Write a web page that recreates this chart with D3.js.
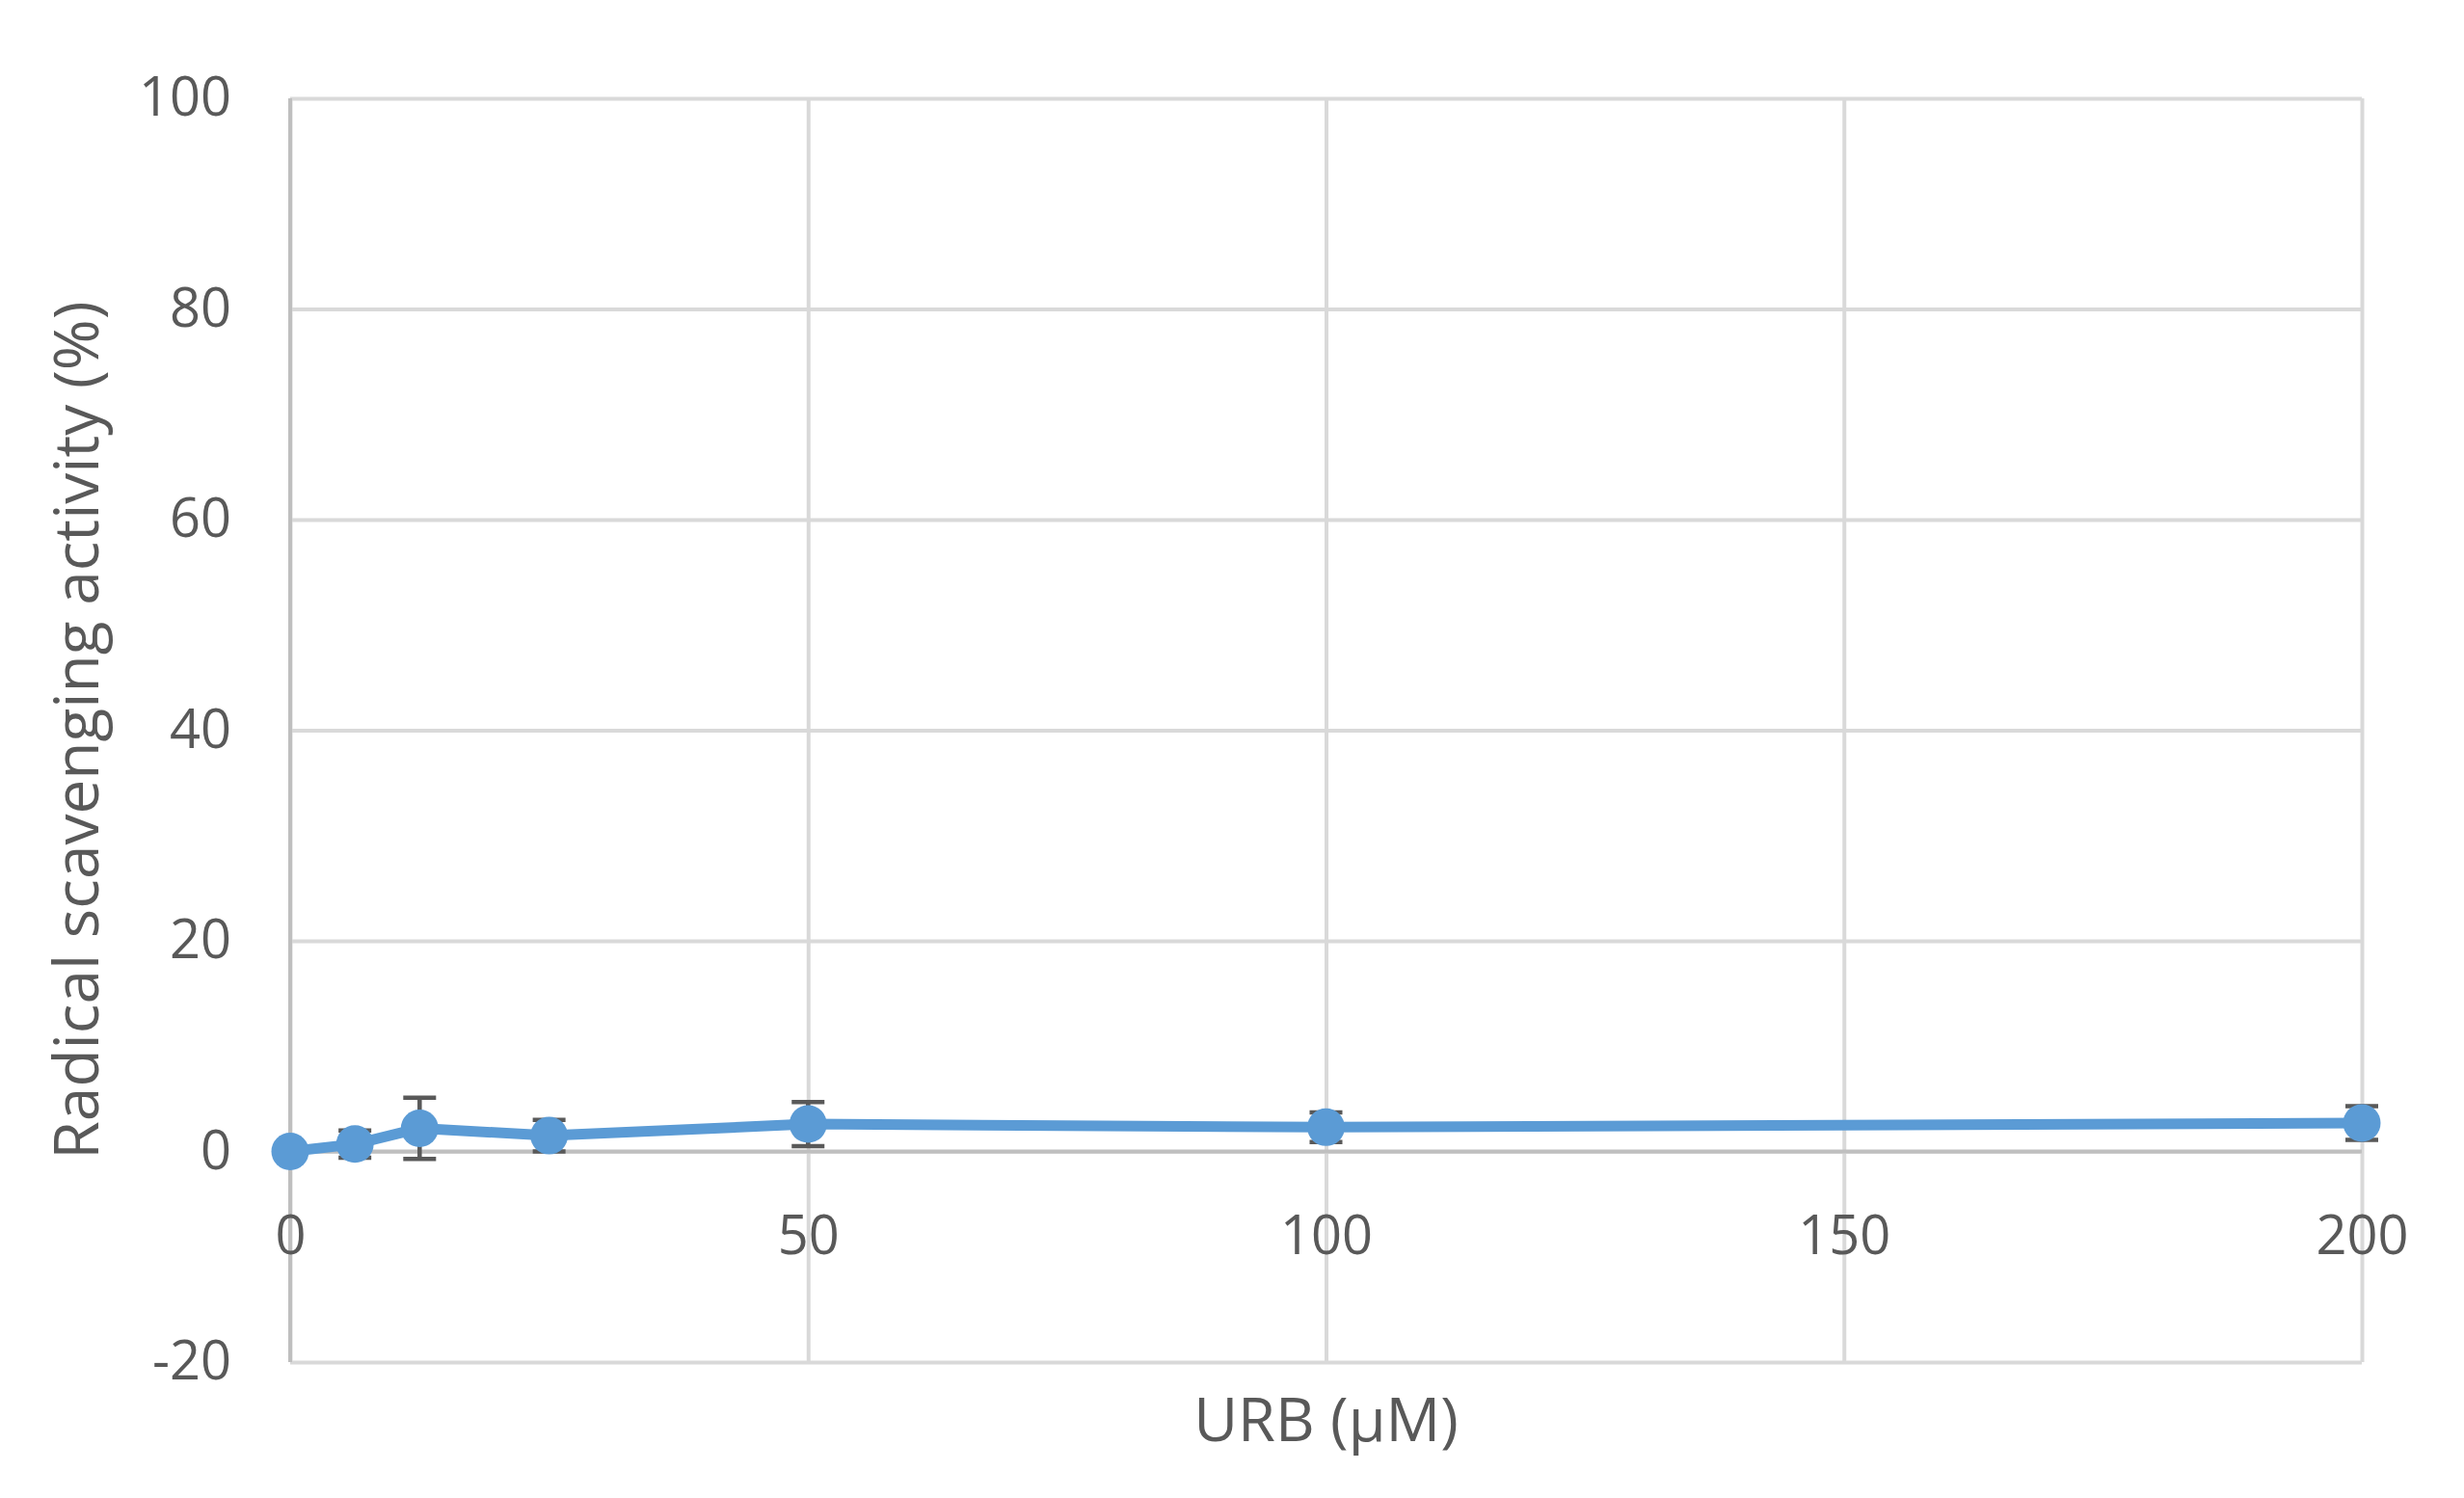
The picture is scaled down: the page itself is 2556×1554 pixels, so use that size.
<!DOCTYPE html>
<html>
<head>
<meta charset="utf-8">
<script src="https://cdn.jsdelivr.net/npm/d3@7"></script>
<style>
  html, body { margin: 0; padding: 0; background: #fff; }
  svg { display: block; font-family: "Open Sans", "Liberation Sans", sans-serif; }
</style>
</head>
<body>
<svg id="chart"></svg>
<script>
// 浓度 (µM) / 清除率 (%) / 误差
const concentrations = [0, 6.25, 12.5, 25, 50, 100, 200];
const activity = [0.0, 0.7, 2.2, 1.5, 2.6, 2.3, 2.7];
const errors = [0.0, 1.3, 2.9, 1.5, 2.1, 1.4, 1.6];

const xTicks = [0, 50, 100, 150, 200];
const yTicks = [-20, 0, 20, 40, 60, 80, 100];

const xTitle = 'URB (μM)';
const yTitle = 'Radical scavenging activity (%)';

const W = 2556, H = 1554;
const TEXT = '#595959', GRID = '#d9d9d9', AXIS = '#bfbfbf', BLUE = '#5b9bd5';

const svg = d3.select('#chart').attr('width', W).attr('height', H).attr('viewBox', `0 0 ${W} ${H}`);

const x = d3.scaleLinear().domain([0, 200]).range([301, 2450]);
const y = d3.scaleLinear().domain([-20, 100]).range([1413, 102]);

const data = concentrations.map((c, i) => ({ c, v: activity[i], e: errors[i] }));
const plain = (d) => String(d); // 用普通连字符，不用 U+2212

// 网格线
svg.append('g').attr('transform', `translate(${x(0)},0)`)
  .call(d3.axisLeft(y).tickValues(yTicks).tickSize(-(x(200) - x(0))).tickFormat(''))
  .call((g) => g.select('.domain').remove())
  .call((g) => g.selectAll('line').attr('stroke', GRID).attr('stroke-width', 4));
svg.append('g').attr('transform', `translate(0,${y(-20)})`)
  .call(d3.axisBottom(x).tickValues(xTicks).tickSize(-(y(-20) - y(100))).tickFormat(''))
  .call((g) => g.select('.domain').remove())
  .call((g) => g.selectAll('line').attr('stroke', GRID).attr('stroke-width', 4));

// 坐标轴线
svg.append('line').attr('x1', x(0)).attr('x2', x(0)).attr('y1', y(100)).attr('y2', y(-20))
  .attr('stroke', AXIS).attr('stroke-width', 4);
svg.append('line').attr('x1', x(0)).attr('x2', x(200)).attr('y1', y(0)).attr('y2', y(0))
  .attr('stroke', AXIS).attr('stroke-width', 4);

// y 轴刻度
svg.append('g').attr('transform', `translate(${x(0)},0)`)
  .call(d3.axisLeft(y).tickValues(yTicks).tickFormat(plain).tickSize(0).tickPadding(61))
  .attr('font-family', null).attr('font-size', 56)
  .call((g) => g.select('.domain').remove())
  .call((g) => g.selectAll('text').attr('fill', TEXT));

// x 轴刻度（贴着 0 线）
svg.append('g').attr('transform', `translate(0,${y(0)})`)
  .call(d3.axisBottom(x).tickValues(xTicks).tickFormat(plain).tickSize(0).tickPadding(67))
  .attr('font-family', null).attr('font-size', 56)
  .call((g) => g.select('.domain').remove())
  .call((g) => g.selectAll('text').attr('fill', TEXT));

// 标题
svg.append('text').attr('x', (x(0) + x(200)) / 2).attr('y', 1495)
  .attr('text-anchor', 'middle').attr('font-size', 63).attr('fill', TEXT).text(xTitle);
svg.append('text').attr('transform', `translate(102,${(y(100) + y(-20)) / 2}) rotate(-90)`)
  .attr('text-anchor', 'middle').attr('font-size', 64).attr('fill', TEXT).text(yTitle);

// 折线
const line = d3.line().x((d) => x(d.c)).y((d) => y(d.v));
svg.append('path').datum(data).attr('fill', 'none').attr('stroke', BLUE)
  .attr('stroke-width', 11).attr('stroke-linejoin', 'round').attr('d', line);

// 误差线（画在标记点下面）
const eb = svg.append('g').attr('stroke', TEXT).attr('stroke-width', 4.5);
data.filter((d) => d.e > 0).forEach((d) => {
  eb.append('line').attr('x1', x(d.c)).attr('x2', x(d.c)).attr('y1', y(d.v + d.e)).attr('y2', y(d.v - d.e));
  [d.v + d.e, d.v - d.e].forEach((t) => {
    eb.append('line').attr('x1', x(d.c) - 17).attr('x2', x(d.c) + 17).attr('y1', y(t)).attr('y2', y(t));
  });
});

// 标记点
svg.selectAll('circle.dot').data(data).enter().append('circle')
  .attr('class', 'dot').attr('cx', (d) => x(d.c)).attr('cy', (d) => y(d.v))
  .attr('r', 19.5).attr('fill', BLUE);
</script>
</body>
</html>
